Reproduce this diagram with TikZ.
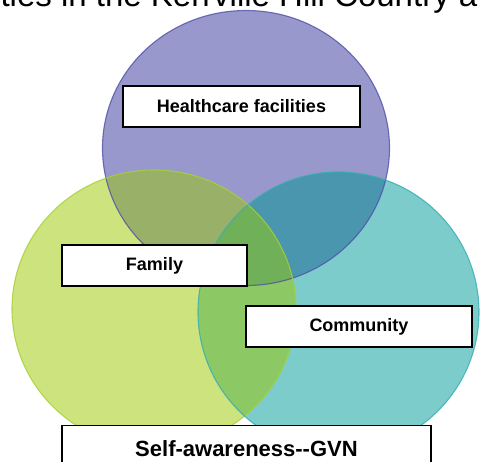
\documentclass[tikz,border=0pt]{standalone}
\usepackage{fontspec}
\setmainfont{Liberation Sans}
\usepackage{tikz}
\usepackage{xcolor}
\definecolor{Health_Fill}{HTML}{9898CC}
\definecolor{Health_Edge}{HTML}{4F4FA8}
\definecolor{Family_Fill}{HTML}{CDE47E}
\definecolor{Family_Edge}{HTML}{A6D034}
\definecolor{Community_Fill}{HTML}{7CCCCC}
\definecolor{Community_Edge}{HTML}{36AEB0}
\definecolor{Health_Family}{HTML}{98B068}
\definecolor{Health_Community}{HTML}{4A96AE}
\definecolor{Family_Community}{HTML}{8CC864}
\definecolor{All_Three}{HTML}{70B058}
\newcommand{\healthcircle}{(246,148) ellipse [x radius=143.5, y radius=137.5]}
\newcommand{\familycircle}{(154,309) ellipse [x radius=142, y radius=139]}
\newcommand{\communitycircle}{(338.5,312) ellipse [x radius=140.5, y radius=140]}

\begin{document}
\begin{tikzpicture}[x=1pt, y=-1pt,
    labelbox/.style={draw=black, line width=1.2pt, fill=white, inner sep=0pt,
        font=\fontsize{18}{18}\selectfont\bfseries}]
    \clip (0,0) rectangle (480,462);

    % Heading, cut off at the top
    \node[anchor=base west, font=\fontsize{33}{33}\selectfont] (heading) at (-3,6.5)
        {ties in the Kerrville Hill Country a};

    % The three circles
    \fill[Health_Fill] \healthcircle;
    \fill[Family_Fill] \familycircle;
    \fill[Community_Fill] \communitycircle;

    % Overlaps
    \begin{scope}
        \clip \healthcircle;
        \fill[Health_Family] \familycircle;
        \fill[Health_Community] \communitycircle;
    \end{scope}
    \begin{scope}
        \clip \familycircle;
        \fill[Family_Community] \communitycircle;
    \end{scope}
    \begin{scope}
        \clip \healthcircle;
        \clip \familycircle;
        \fill[All_Three] \communitycircle;
    \end{scope}

    % Outlines
    \draw[Health_Edge, line width=1.1pt, draw opacity=0.8] \healthcircle;
    \draw[Family_Edge, line width=1.1pt, draw opacity=0.8] \familycircle;
    \draw[Community_Edge, line width=1.1pt, draw opacity=0.8] \communitycircle;

    % Labels
    \node[labelbox, minimum width=237, minimum height=41] (health) at (241.5,106.5)
        {Healthcare facilities};
    \node[labelbox, minimum width=185, minimum height=41] (family) at (154.5,265.5)
        {Family};
    \node[labelbox, minimum width=226, minimum height=41] (community) at (359,326.5)
        {Community};
    \node[labelbox, anchor=north, minimum width=369, text height=31, text depth=24,
        font=\fontsize{22}{22}\selectfont\bfseries] (self) at (246.5,425)
        {Self-awareness-{}-GVN};
\end{tikzpicture}
\end{document}
